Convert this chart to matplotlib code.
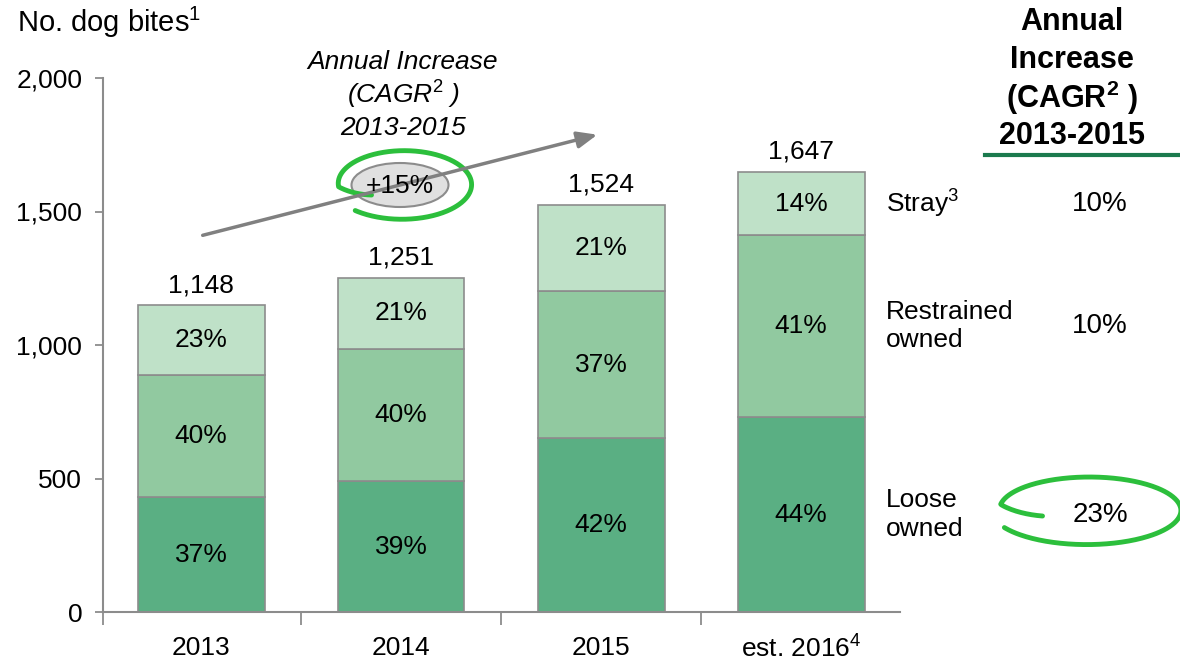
import numpy as np
import matplotlib
matplotlib.use('Agg')
import matplotlib.pyplot as plt
from matplotlib.lines import Line2D
from matplotlib.patches import Ellipse

plt.rcParams['font.family'] = ['Liberation Sans', 'DejaVu Sans']
plt.rcParams['mathtext.fontset'] = 'custom'
plt.rcParams['mathtext.rm'] = 'Liberation Sans'
plt.rcParams['mathtext.it'] = 'Liberation Sans:italic'
plt.rcParams['mathtext.bf'] = 'Liberation Sans:bold'

# data
years = ['2013', '2014', '2015', 'est. 2016$^4$']
totals = [1148, 1251, 1524, 1647]
loose = [430, 490, 650, 730]
restrained = [458, 495, 552, 682]
stray = [260, 266, 322, 235]
loose_pct = ['37%', '39%', '42%', '44%']
restrained_pct = ['40%', '40%', '37%', '41%']
stray_pct = ['23%', '21%', '21%', '14%']
segment_names = ['Loose\nowned', 'Restrained\nowned', 'Stray$^3$']
segment_cagr = ['23%', '10%', '10%']
overall_cagr = '+15%'

c_loose = '#5aaf83'
c_restr = '#91c9a0'
c_stray = '#bfe1c8'
edge = '#8c8c8c'
green = '#2cbf3c'

W, H = 1180, 665
fig = plt.figure(figsize=(11.8, 6.65), dpi=100)
ax = fig.add_axes([103 / W, 53 / H, 797 / W, 534 / H])

x = np.arange(len(years))
bw = 0.635
b1 = np.array(loose)
b2 = b1 + np.array(restrained)
ax.bar(x, loose, bw, color=c_loose, edgecolor=edge, linewidth=1.2)
ax.bar(x, restrained, bw, bottom=b1, color=c_restr, edgecolor=edge, linewidth=1.2)
ax.bar(x, stray, bw, bottom=b2, color=c_stray, edgecolor=edge, linewidth=1.2)

fs = 19
for i in range(len(years)):
    ax.text(x[i], loose[i] / 2, loose_pct[i], ha='center', va='center', fontsize=fs)
    ax.text(x[i], b1[i] + restrained[i] / 2, restrained_pct[i], ha='center', va='center', fontsize=fs)
    ax.text(x[i], b2[i] + stray[i] / 2, stray_pct[i], ha='center', va='center', fontsize=fs)
    ax.annotate(f'{totals[i]:,}', (x[i], totals[i]), xytext=(0, 6), textcoords='offset points',
                ha='center', va='bottom', fontsize=fs)

# right-hand legend + CAGR column, aligned with last bar's segments
last = len(years) - 1
mids = [loose[last] / 2, b1[last] + restrained[last] / 2, b2[last] + stray[last] / 2]
for name, val, y in zip(segment_names, segment_cagr, mids):
    ax.text(3.425, y, name, ha='left', va='center', fontsize=fs, linespacing=1.25)
    ax.text(4.495, y, val, ha='center', va='center', fontsize=fs + 1)

ax.set_xlim(-0.49, 3.495)
ax.set_ylim(0, 2000)
ax.set_yticks([0, 500, 1000, 1500, 2000])
ax.set_yticklabels([f'{v:,}' for v in [0, 500, 1000, 1500, 2000]])
ax.set_xticks(x)
ax.set_xticklabels(years)
ax.set_xticks([-0.49, 0.5, 1.5, 2.5], minor=True)
ax.tick_params(axis='x', which='major', length=0, pad=17, labelsize=fs)
ax.tick_params(axis='x', which='minor', length=9, width=1.3, color=edge)
ax.tick_params(axis='y', length=6, width=1.3, color=edge, pad=9, labelsize=fs)
for s in ['top', 'right']:
    ax.spines[s].set_visible(False)
for s in ['left', 'bottom']:
    ax.spines[s].set_color(edge)
    ax.spines[s].set_linewidth(1.5)


def fxy(px, py):
    return px / W, 1 - py / H


fig.text(*fxy(17, 22), 'No. dog bites$^1$', ha='left', va='center', fontsize=21)

# header of the CAGR column
hdr = ['Annual', 'Increase', r'(CAGR$^\mathbf{2}$ )', '2013-2015']
for k, t in enumerate(hdr):
    fig.text(*fxy(1072, 22 + 38 * k), t, ha='center', va='center', fontsize=22, fontweight='bold')
fig.add_artist(Line2D([985 / W, 1], [1 - 155 / H] * 2, color='#1b7a4e', lw=3))

# italic annotation + arrow
ital = ['Annual Increase', r'(CAGR$^\mathit{2}$ )', '2013-2015']
for k, t in enumerate(ital):
    fig.text(*fxy(403, 62 + 33 * k), t, ha='center', va='center', fontsize=fs, style='italic')

ax_arrow = fig.add_axes([0, 0, 1, 1], facecolor='none')
ax_arrow.set_xlim(0, W)
ax_arrow.set_ylim(H, 0)
ax_arrow.axis('off')
ax_arrow.annotate('', xy=(600, 134), xytext=(200, 236),
                  arrowprops=dict(arrowstyle='-|>,head_length=1.2,head_width=0.5', color='#808080', lw=2.5))
ax_arrow.add_patch(Ellipse((400, 185), 97, 44, facecolor='#e0e0e0', edgecolor='#8c8c8c', lw=1.5))
ax_arrow.text(400, 186, overall_cagr, ha='center', va='center', fontsize=fs)


def loop(cx, cy, rx, ry, a0, a1, r0, grow=0.0):
    t = np.linspace(a0, a1, 300)
    ramp = np.clip((a0 - t) / 30, 0, 1)
    f = r0 + (1 - r0) * ramp + grow * (a0 - t) / 360
    xs = cx + rx * f * np.cos(np.radians(t))
    ys = cy - ry * f * np.sin(np.radians(t))
    ax_arrow.plot(xs, ys, color=green, lw=3.5, solid_capstyle='round')


loop(403, 184, 64, 32, 215, -132, 0.6, 0.12)
loop(1088, 510, 88, 32, 200, -150, 0.55, 0.1)

fig.savefig('out.png', dpi=100)
